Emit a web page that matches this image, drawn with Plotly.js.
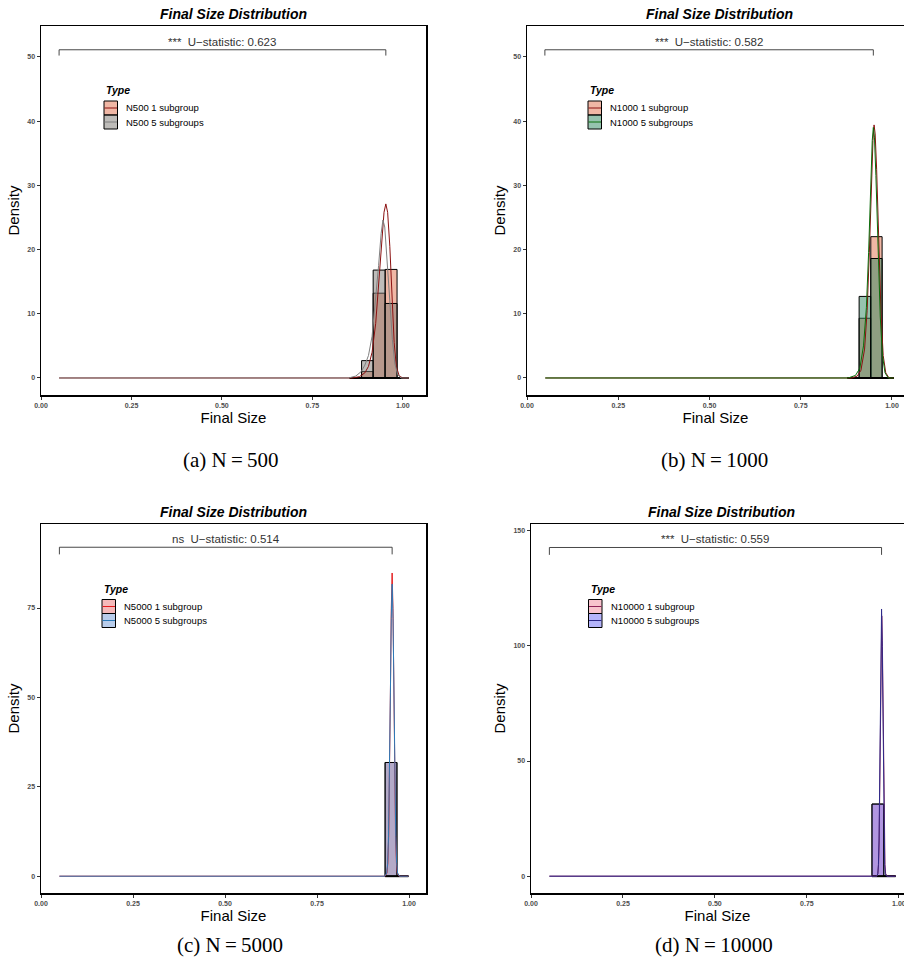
<!DOCTYPE html>
<html>
<head>
<meta charset="utf-8">
<script src="https://cdn.plot.ly/plotly-3.0.1.min.js"></script>
<style>html,body{margin:0;padding:0;background:#fff;}#chart{width:904px;height:971px;}</style>
</head>
<body>
<div id="chart"></div>
<script>
// ---------------- DATA ----------------
const panelTitle = "Final Size Distribution";
const xTickVals = [0, 0.25, 0.5, 0.75, 1.0];
const captions = ["(a) N\u2009=\u2009500", "(b) N\u2009=\u20091000", "(c) N\u2009=\u20095000", "(d) N\u2009=\u200910000"];
const statLabels = ["***\u00a0\u00a0U\u2212statistic: 0.623", "***\u00a0\u00a0U\u2212statistic: 0.582",
                    "ns\u00a0\u00a0U\u2212statistic: 0.514", "***\u00a0\u00a0U\u2212statistic: 0.559"];

// Panel A: N500
const namesA = ["N500 1 subgroup", "N500 5 subgroups"];
const binEdgesA = [0.853, 0.886, 0.918, 0.951, 0.984, 1.017];
const histA1 = [0, 1.0, 13.2, 16.9, 0];
const histA5 = [0, 2.7, 16.8, 11.6, 0];
const densXA1 = [0.05, 0.860, 0.880, 0.895, 0.905, 0.915, 0.925, 0.935, 0.942, 0.948, 0.953, 0.958, 0.964, 0.970, 0.976, 0.982, 0.990, 1.000, 1.017];
const densYA1 = [0, 0, 0.2, 0.8, 1.8, 4.0, 8.5, 15.5, 21.5, 25.8, 27.1, 25.8, 20.5, 12.5, 5.5, 1.8, 0.3, 0, 0];
const densXA5 = [0.05, 0.850, 0.870, 0.885, 0.895, 0.905, 0.915, 0.925, 0.933, 0.940, 0.945, 0.950, 0.957, 0.964, 0.971, 0.978, 0.986, 0.995, 1.017];
const densYA5 = [0, 0, 0.3, 1.0, 2.0, 3.5, 6.5, 12.0, 17.5, 22.5, 24.6, 23.5, 18.5, 12.0, 6.0, 2.2, 0.5, 0, 0];
const bracketXA = [0.05, 0.953];
const bracketYA = [50.2, 51.1];

// Panel B: N1000
const namesB = ["N1000 1 subgroup", "N1000 5 subgroups"];
const binEdgesB = [0.878, 0.910, 0.942, 0.973, 1.005];
const histB1 = [0, 9.3, 22.0, 0];
const histB5 = [0, 12.7, 18.6, 0];
const densXB1 = [0.05, 0.890, 0.905, 0.915, 0.925, 0.932, 0.938, 0.944, 0.948, 0.951, 0.954, 0.958, 0.964, 0.970, 0.976, 0.983, 0.992, 1.005];
const densYB1 = [0, 0, 0.3, 1.2, 4.5, 10.5, 19.5, 31.0, 37.0, 39.4, 38.0, 32.5, 21.0, 10.0, 3.5, 0.8, 0, 0];
const densXB5 = [0.05, 0.880, 0.900, 0.912, 0.922, 0.930, 0.936, 0.942, 0.946, 0.949, 0.952, 0.956, 0.962, 0.968, 0.974, 0.981, 0.990, 1.005];
const densYB5 = [0, 0, 0.4, 1.5, 5.0, 11.0, 19.5, 30.5, 37.0, 39.0, 37.5, 31.5, 20.0, 9.5, 3.5, 0.8, 0, 0];
const bracketXB = [0.049, 0.949];
const bracketYB = [50.2, 51.1];

// Panel C: N5000
const namesC = ["N5000 1 subgroup", "N5000 5 subgroups"];
const binEdgesC = [0.935, 0.967, 0.998];
const histC1 = [31.8, 0];
const histC5 = [31.8, 0];
const densXC1 = [0.05, 0.935, 0.940, 0.9423, 0.9447, 0.947, 0.9493, 0.9517, 0.954, 0.9563, 0.9587, 0.961, 0.9633, 0.9657, 0.968, 0.973, 0.998];
const densYC1 = [0, 0, 0.9, 3.7, 11.5, 27.6, 51.4, 74.8, 84.8, 74.8, 51.4, 27.6, 11.5, 3.7, 0.9, 0, 0];
const densXC5 = [0.05, 0.934, 0.9393, 0.9418, 0.9442, 0.9467, 0.9491, 0.9516, 0.954, 0.9565, 0.9589, 0.9614, 0.9638, 0.9663, 0.9687, 0.974, 0.998];
const densYC5 = [0, 0, 0.9, 3.6, 11.1, 26.6, 49.6, 72.1, 81.7, 72.1, 49.6, 26.6, 11.1, 3.6, 0.9, 0, 0];
const bracketXC = [0.05, 0.954];
const bracketYC = [90.0, 92.0];

// Panel D: N10000
const namesD = ["N10000 1 subgroup", "N10000 5 subgroups"];
const binEdgesD = [0.927, 0.959, 0.991];
const histD1 = [31.3, 0];
const histD5 = [31.3, 0];
const densXD1 = [0.05, 0.940, 0.943, 0.9448, 0.9465, 0.9483, 0.950, 0.9518, 0.9535, 0.9553, 0.957, 0.9588, 0.9605, 0.9623, 0.964, 0.968, 0.991];
const densYD1 = [0, 0, 1.2, 5.0, 15.3, 36.7, 68.5, 99.7, 113, 99.7, 68.5, 36.7, 15.3, 5.0, 1.2, 0, 0];
const densXD5 = [0.05, 0.940, 0.9428, 0.9445, 0.9462, 0.9479, 0.9496, 0.9513, 0.953, 0.9547, 0.9564, 0.9581, 0.9598, 0.9615, 0.9632, 0.967, 0.991];
const densYD5 = [0, 0, 1.0, 5.1, 15.7, 37.7, 70.4, 102.4, 116, 102.4, 70.4, 37.7, 15.7, 5.1, 1.0, 0, 0];
const bracketXD = [0.05, 0.953];
const bracketYD = [139.5, 142.7];

// ---------------- STYLE ----------------
const W = 904, H = 971;
const FONT = "Liberation Sans, Arial, Helvetica, sans-serif";
const px = v => v / W;
const py = v => 1 - v / H;

const panels = [
  { ax: "", names: namesA, edges: binEdgesA, h1: histA1, h5: histA5,
    dx1: densXA1, dy1: densYA1, dx5: densXA5, dy5: densYA5, bx: bracketXA, by: bracketYA,
    fill1: "rgba(225,111,75,0.5)", fill5: "rgba(125,121,115,0.5)", line1: "#8B1010", line5: "#7F7F7F",
    dom: [[41, 426], [26, 395]], xr: [0, 1.064], yr: [-2.65, 54.8], yt: [0, 10, 20, 30, 40, 50],
    leg: [104, 101] },
  { ax: "2", names: namesB, edges: binEdgesB, h1: histB1, h5: histB5,
    dx1: densXB1, dy1: densYB1, dx5: densXB5, dy5: densYB5, bx: bracketXB, by: bracketYB,
    fill1: "rgba(225,111,75,0.5)", fill5: "rgba(45,135,95,0.5)", line1: "#8B1010", line5: "#0B6E0B",
    dom: [[527, 904], [26, 395]], xr: [0, 1.033], yr: [-2.65, 54.8], yt: [0, 10, 20, 30, 40, 50],
    leg: [588, 101] },
  { ax: "3", names: namesC, edges: binEdgesC, h1: histC1, h5: histC5,
    dx1: densXC1, dy1: densYC1, dx5: densXC5, dy5: densYC5, bx: bracketXC, by: bracketYC,
    fill1: "rgba(235,115,115,0.5)", fill5: "rgba(115,155,215,0.5)", line1: "#E41A1C", line5: "#2B7BBA",
    dom: [[41, 426], [524, 893]], xr: [0, 1.046], yr: [-4.7, 98.5], yt: [0, 25, 50, 75],
    leg: [102, 599.5] },
  { ax: "4", names: namesD, edges: binEdgesD, h1: histD1, h5: histD5,
    dx1: densXD1, dy1: densYD1, dx5: densXD5, dy5: densYD5, bx: bracketXD, by: bracketYD,
    fill1: "rgba(241,135,155,0.5)", fill5: "rgba(105,105,245,0.5)", line1: "#8E2157", line5: "#2E2A8A",
    dom: [[531, 904], [524, 893]], xr: [0, 1.014], yr: [-7.3, 152.9], yt: [0, 50, 100, 150],
    leg: [588.5, 599.5] }
];

const traces = [];
const layout = {
  width: W, height: H,
  margin: { l: 0, r: 0, t: 0, b: 0 },
  paper_bgcolor: "#ffffff", plot_bgcolor: "#ffffff",
  showlegend: false, barmode: "overlay", bargap: 0,
  font: { family: FONT, color: "#000" },
  annotations: [], shapes: []
};

panels.forEach((p, i) => {
  const xa = "x" + p.ax, ya = "y" + p.ax;
  const centers = p.edges.slice(0, -1).map((e, k) => (e + p.edges[k + 1]) / 2);
  const widths = p.edges.slice(0, -1).map((e, k) => p.edges[k + 1] - e);

  traces.push({ type: "bar", x: centers, y: p.h1, width: widths, xaxis: xa, yaxis: ya, name: p.names[0],
    marker: { color: p.fill1, line: { color: "#000", width: 1 } }, hoverinfo: "x+y+name" });
  traces.push({ type: "bar", x: centers, y: p.h5, width: widths, xaxis: xa, yaxis: ya, name: p.names[1],
    marker: { color: p.fill5, line: { color: "#000", width: 1 } }, hoverinfo: "x+y+name" });
  // outline of empty bins along the baseline
  traces.push({ type: "scatter", mode: "lines", x: [p.edges[0], p.edges[p.edges.length - 1]], y: [0, 0],
    xaxis: xa, yaxis: ya, line: { color: "#000", width: 2 }, hoverinfo: "skip" });
  traces.push({ type: "scatter", mode: "lines", x: p.dx1, y: p.dy1, xaxis: xa, yaxis: ya, name: p.names[0],
    line: { color: p.line1, width: 1 } });
  traces.push({ type: "scatter", mode: "lines", x: p.dx5, y: p.dy5, xaxis: xa, yaxis: ya, name: p.names[1],
    line: { color: p.line5, width: 1 } });
  // significance bracket
  traces.push({ type: "scatter", mode: "lines", x: [p.bx[0], p.bx[0], p.bx[1], p.bx[1]],
    y: [p.by[0], p.by[1], p.by[1], p.by[0]], xaxis: xa, yaxis: ya,
    line: { color: "#333", width: 0.9 }, hoverinfo: "skip" });

  const axCommon = {
    showline: true, mirror: true, linecolor: "#000", linewidth: 1.5,
    ticks: "outside", ticklen: 3, tickwidth: 1, tickcolor: "#333",
    showgrid: false, zeroline: false, fixedrange: true, ticklabeloverflow: "allow",
    tickfont: { family: FONT, size: 7, color: "#4D4D4D", weight: "bold" }
  };
  layout["xaxis" + p.ax] = Object.assign({}, axCommon, {
    domain: [px(p.dom[0][0]), px(p.dom[0][1])], range: p.xr, anchor: ya,
    tickvals: xTickVals, tickformat: ".2f",
    title: { text: "Final Size", font: { family: FONT, size: 15, color: "#000" }, standoff: 2 }
  });
  layout["yaxis" + p.ax] = Object.assign({}, axCommon, {
    domain: [py(p.dom[1][1]), py(p.dom[1][0])], range: p.yr, anchor: xa,
    tickvals: p.yt,
    title: { text: "Density", font: { family: FONT, size: 15, color: "#000" }, standoff: 4 }
  });

  // panel title
  layout.annotations.push({ xref: "paper", yref: "paper", x: px((p.dom[0][0] + (i % 2 ? 911 : p.dom[0][1])) / 2),
    y: py(p.dom[1][0] - 12), text: "<b><i>" + panelTitle + "</i></b>", showarrow: false,
    font: { family: FONT, size: 14, color: "#000" }, xanchor: "center", yanchor: "middle" });
  // stat label
  layout.annotations.push({ xref: xa, yref: ya, x: (p.bx[0] + p.bx[1]) / 2, y: p.by[1],
    text: statLabels[i], showarrow: false, yanchor: "bottom", yshift: 0,
    font: { family: FONT, size: 11.5, color: "#333" } });
  // caption
  layout.annotations.push({ xref: "paper", yref: "paper", x: px(i % 2 ? 714 : 230), y: py(i < 2 ? 460 : 945),
    text: captions[i], showarrow: false, xanchor: "center", yanchor: "middle",
    font: { family: "Liberation Serif, DejaVu Serif, serif", size: 21, color: "#000" } });

  // legend (manual, ggplot-style keys)
  const lx = p.leg[0], ly = p.leg[1], kw = 13.5, kh = 14;
  layout.annotations.push({ xref: "paper", yref: "paper", x: px(lx), y: py(ly - 11), text: "<b><i>Type</i></b>",
    showarrow: false, xanchor: "left", yanchor: "middle", font: { family: FONT, size: 10.5, color: "#000" } });
  [[p.fill1, p.line1, p.names[0]], [p.fill5, p.line5, p.names[1]]].forEach((it, k) => {
    const y0 = ly + k * kh, y1 = y0 + kh;
    layout.shapes.push({ type: "rect", xref: "paper", yref: "paper", x0: px(lx), x1: px(lx + kw), y0: py(y1), y1: py(y0),
      fillcolor: it[0], line: { color: "#000", width: 1 }, layer: "above" });
    layout.shapes.push({ type: "line", xref: "paper", yref: "paper", x0: px(lx + 0.5), x1: px(lx + kw - 0.5),
      y0: py(y0 + kh / 2), y1: py(y0 + kh / 2), line: { color: it[1], width: 1 }, layer: "above" });
    layout.annotations.push({ xref: "paper", yref: "paper", x: px(lx + 20), y: py(y0 + kh / 2), text: it[2],
      showarrow: false, xanchor: "left", yanchor: "middle", font: { family: FONT, size: 9.5, color: "#000" } });
  });
});

Plotly.newPlot("chart", traces, layout, { displayModeBar: false, staticPlot: true });
</script>
</body>
</html>
